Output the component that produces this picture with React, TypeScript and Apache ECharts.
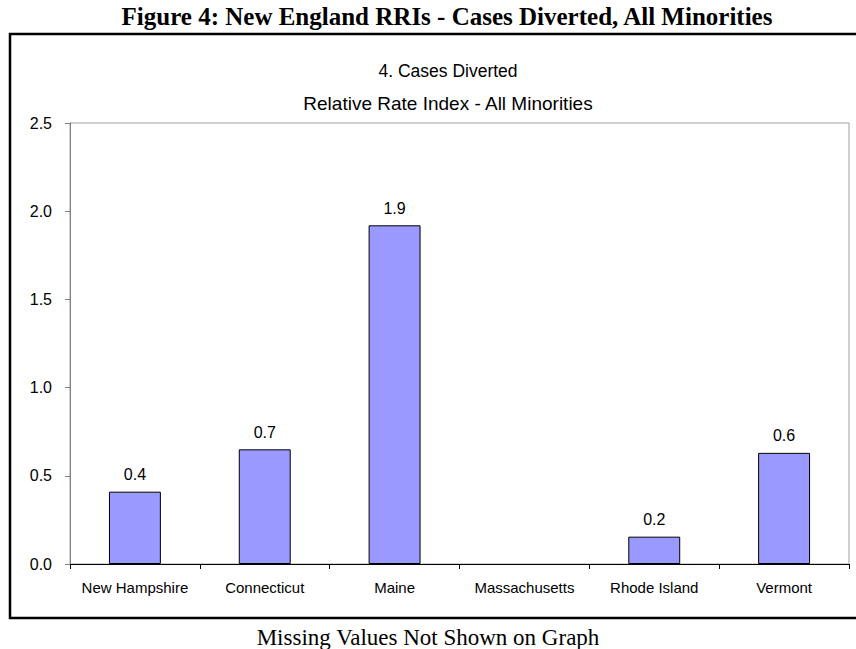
import React, { useEffect, useRef } from "react";
import * as echarts from "echarts";

const categories = ["New Hampshire", "Connecticut", "Maine", "Massachusetts", "Rhode Island", "Vermont"];
const rriValues: (number | null)[] = [0.41, 0.65, 1.92, null, 0.155, 0.63];
const valueLabels = ["0.4", "0.7", "1.9", "", "0.2", "0.6"];

const figureTitle = "Figure 4: New England RRIs - Cases Diverted, All Minorities";
const chartTitle = "4. Cases Diverted";
const chartSubtitle = "Relative Rate Index - All Minorities";
const footnote = "Missing Values Not Shown on Graph";

const SANS = "'Liberation Sans', Arial, sans-serif";

export default function App() {
  const ref = useRef<HTMLDivElement>(null);
  useEffect(() => {
    if (!ref.current) return;
    const chart = echarts.init(ref.current, null, { renderer: "svg" });
    chart.setOption({
      animation: false,
      backgroundColor: "#ffffff",
      grid: {
        left: 70,
        top: 123,
        width: 779,
        height: 441,
        show: true,
        borderColor: "#a0a0a0",
        borderWidth: 1,
        backgroundColor: "transparent",
      },
      xAxis: {
        type: "category",
        data: categories,
        axisLine: { lineStyle: { color: "#000000", width: 1 } },
        axisTick: { show: true, alignWithLabel: false, length: 5, lineStyle: { color: "#000000" } },
        axisLabel: { color: "#000000", fontFamily: SANS, fontSize: 15, margin: 16, interval: 0 },
      },
      yAxis: {
        type: "value",
        min: 0,
        max: 2.5,
        interval: 0.5,
        axisLine: { show: true, lineStyle: { color: "#808080", width: 1 } },
        axisTick: { show: true, length: 5, lineStyle: { color: "#808080" } },
        splitLine: { show: false },
        axisLabel: {
          color: "#000000",
          fontFamily: SANS,
          fontSize: 16,
          margin: 18,
          formatter: (v: number) => v.toFixed(1),
        },
      },
      series: [
        {
          type: "bar",
          data: rriValues,
          barCategoryGap: "60%",
          itemStyle: { color: "#9999ff", borderColor: "#000000", borderWidth: 1 },
          label: {
            show: true,
            position: "top",
            distance: 9,
            color: "#000000",
            fontFamily: SANS,
            fontSize: 16,
            formatter: (p: any) => valueLabels[p.dataIndex],
          },
        },
      ],
      graphic: [
        {
          type: "rect",
          shape: { x: 10, y: 34, width: 860, height: 584 },
          style: { fill: "none", stroke: "#000000", lineWidth: 2.5 },
          silent: true,
          z: -1,
        },
        {
          type: "text",
          x: 447,
          y: 16,
          style: {
            text: figureTitle,
            font: "bold 25px 'Liberation Serif', 'Times New Roman', serif",
            fill: "#000000",
            align: "center",
            verticalAlign: "middle",
          },
        },
        {
          type: "text",
          x: 448,
          y: 71,
          style: {
            text: chartTitle,
            font: "17.5px " + SANS,
            fill: "#000000",
            align: "center",
            verticalAlign: "middle",
          },
        },
        {
          type: "text",
          x: 448,
          y: 103,
          style: {
            text: chartSubtitle,
            font: "19px " + SANS,
            fill: "#000000",
            align: "center",
            verticalAlign: "middle",
          },
        },
        {
          type: "text",
          x: 428,
          y: 637,
          style: {
            text: footnote,
            font: "23px 'Liberation Serif', 'Times New Roman', serif",
            fill: "#000000",
            align: "center",
            verticalAlign: "middle",
          },
        },
      ],
    });
    return () => chart.dispose();
  }, []);
  return (
    <div
      ref={ref}
      style={{ position: "absolute", left: 0, top: 0, width: 856, height: 649 }}
    />
  );
}
